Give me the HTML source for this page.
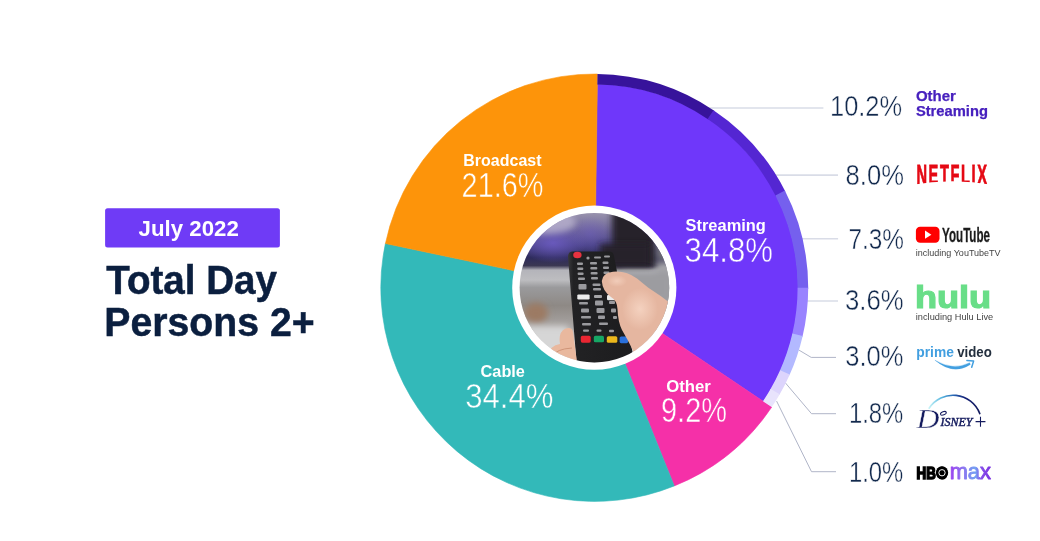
<!DOCTYPE html>
<html><head><meta charset="utf-8"><title>Total Day Persons 2+ July 2022</title>
<style>
html,body{margin:0;padding:0;background:#fff;}
body{width:1040px;height:541px;overflow:hidden;}
svg{display:block;font-family:"Liberation Sans",sans-serif;}
</style></head><body>
<svg width="1040" height="541" viewBox="0 0 1040 541">
<rect width="1040" height="541" fill="#fff"/>
<g>
<path d="M700 108H823.4" stroke="#d9dce7" stroke-width="1.6" fill="none"/>
<path d="M768 175.1H838" stroke="#d9dce7" stroke-width="1.6" fill="none"/>
<path d="M796 238.7H838.1" stroke="#d9dce7" stroke-width="1.6" fill="none"/>
<path d="M800 301H838" stroke="#d9dce7" stroke-width="1.6" fill="none"/>
<path d="M798.8 350L811.2 357.4H836" stroke="#b0b5c8" stroke-width="1" fill="none"/>
<path d="M785.4 382.9L811.5 413.7H836" stroke="#b0b5c8" stroke-width="1" fill="none"/>
<path d="M776.6 401.1L811.5 471.7H836" stroke="#b0b5c8" stroke-width="1" fill="none"/>
</g>
<g>
<path d="M594.50 287.70L597.35 83.92A203.80 203.80 0 0 1 763.54 401.55Z" fill="#6f37fa" stroke="#6f37fa" stroke-width="0.6" stroke-linejoin="round"/>
<path d="M594.50 287.70L771.75 407.08A213.70 213.70 0 0 1 674.28 485.95Z" fill="#f530a8" stroke="#f530a8" stroke-width="0.6" stroke-linejoin="round"/>
<path d="M594.50 287.70L674.28 485.95A213.70 213.70 0 0 1 385.42 243.52Z" fill="#33b9b9" stroke="#33b9b9" stroke-width="0.6" stroke-linejoin="round"/>
<path d="M594.50 287.70L385.42 243.52A213.70 213.70 0 0 1 597.48 74.02Z" fill="#fd940a" stroke="#fd940a" stroke-width="0.6" stroke-linejoin="round"/>
<path d="M597.48 74.02A213.70 213.70 0 0 1 714.28 110.72L708.34 119.50A203.10 203.10 0 0 0 597.34 84.62Z" fill="#37139b"/>
<path d="M713.50 110.20A213.70 213.70 0 0 1 785.30 191.45L775.83 196.22A203.10 203.10 0 0 0 707.60 119.01Z" fill="#5426d2"/>
<path d="M784.87 190.62A213.70 213.70 0 0 1 808.20 288.63L797.60 288.59A203.10 203.10 0 0 0 775.43 195.43Z" fill="#7560ee"/>
<path d="M808.20 287.70A213.70 213.70 0 0 1 802.48 336.83L792.16 334.39A203.10 203.10 0 0 0 797.60 287.70Z" fill="#9983ff"/>
<path d="M802.69 335.92A213.70 213.70 0 0 1 789.42 375.30L779.75 370.96A203.10 203.10 0 0 0 792.36 333.53Z" fill="#b3b9ff"/>
<path d="M789.80 374.45A213.70 213.70 0 0 1 779.29 395.03L770.12 389.71A203.10 203.10 0 0 0 780.11 370.15Z" fill="#dcd4fc"/>
<path d="M779.76 394.23A213.70 213.70 0 0 1 771.75 407.08L762.96 401.15A203.10 203.10 0 0 0 770.57 388.94Z" fill="#e8e3fc"/>
</g>
<g>
<circle cx="594.3" cy="287.7" r="82.1" fill="#fff"/>
<defs>
<clipPath id="pc"><circle cx="594.4" cy="287.7" r="74.8"/></clipPath>
<linearGradient id="bgv" x1="0" y1="212" x2="0" y2="363" gradientUnits="userSpaceOnUse">
<stop offset="0" stop-color="#9b95ae"/><stop offset="0.13" stop-color="#6c6399"/><stop offset="0.22" stop-color="#4a4386"/><stop offset="0.30" stop-color="#2e2b5c"/><stop offset="0.355" stop-color="#3a3752"/><stop offset="0.385" stop-color="#b4b4ba"/><stop offset="0.45" stop-color="#bdbdc0"/><stop offset="0.50" stop-color="#9a9a9c"/><stop offset="0.62" stop-color="#8e8985"/><stop offset="0.76" stop-color="#a9a5a3"/><stop offset="0.86" stop-color="#d2d2d2"/><stop offset="1" stop-color="#dedede"/>
</linearGradient>
<radialGradient id="glow" cx="0.5" cy="0.5" r="0.5"><stop offset="0" stop-color="#6d5cc4" stop-opacity="0.85"/><stop offset="1" stop-color="#6d5cc4" stop-opacity="0"/></radialGradient>
<radialGradient id="hl" cx="0.5" cy="0.5" r="0.5"><stop offset="0" stop-color="#f5d3c1" stop-opacity="0.95"/><stop offset="1" stop-color="#f5d3c1" stop-opacity="0"/></radialGradient>
<linearGradient id="rem" x1="0" y1="0" x2="1" y2="0"><stop offset="0" stop-color="#3a3a3c"/><stop offset="0.08" stop-color="#222224"/><stop offset="1" stop-color="#1c1c1e"/></linearGradient>
<filter id="bl" x="-30%" y="-30%" width="160%" height="160%"><feGaussianBlur stdDeviation="3"/></filter>
<filter id="bl1" x="-30%" y="-30%" width="160%" height="160%"><feGaussianBlur stdDeviation="0.6"/></filter>
<filter id="bl2" x="-30%" y="-30%" width="160%" height="160%"><feGaussianBlur stdDeviation="1.4"/></filter>
</defs>
<g clip-path="url(#pc)">
<rect x="515" y="208" width="160" height="160" fill="url(#bgv)"/>
<ellipse cx="553" cy="243" rx="34" ry="20" fill="url(#glow)"/>
<ellipse cx="590" cy="234" rx="20" ry="18" fill="url(#glow)" opacity="0.5"/>
<ellipse cx="546" cy="222" rx="30" ry="12" fill="#b9b2cf" filter="url(#bl)" opacity="0.8"/>
<rect x="612" y="200" width="44" height="67" fill="#27222b" filter="url(#bl)"/>
<rect x="600" y="244" width="50" height="22" fill="#27222b" filter="url(#bl)"/>
<rect x="656" y="226" width="30" height="34" fill="#727276" filter="url(#bl)"/><rect x="656" y="262" width="30" height="50" fill="#a4a4a8" filter="url(#bl)"/>
<rect x="622" y="272" width="50" height="30" fill="#9c9ca0" filter="url(#bl)"/>
<ellipse cx="536" cy="313" rx="12" ry="10" fill="#9c7a64" filter="url(#bl)"/>
<rect x="518" y="326" width="50" height="40" fill="#d6d6d6" filter="url(#bl)"/>
<!-- remote -->
<path d="M568 257Q568 251.6 573 251.6L609 251.6Q613.4 251.6 614 256L634 360L577 368Z" fill="url(#rem)"/>
<ellipse cx="577.4" cy="255" rx="4.2" ry="3.2" fill="#e8323f" filter="url(#bl1)"/>
<g fill="#9a9a9e" filter="url(#bl1)">
<circle cx="588" cy="258" r="1.6"/><rect x="594" y="256.5" width="7" height="2" rx="1"/><rect x="604" y="255.5" width="6" height="2" rx="1"/>
<rect x="577" y="262.5" width="6" height="2.6" rx="1"/><rect x="590" y="262" width="7" height="2.6" rx="1"/><rect x="602.5" y="261.5" width="6" height="2.6" rx="1"/>
<rect x="577.3" y="267.5" width="6" height="2.6" rx="1"/><rect x="590.3" y="267" width="7" height="2.6" rx="1"/><rect x="603" y="266.5" width="6" height="2.6" rx="1"/>
<rect x="577.6" y="272.5" width="6" height="2.6" rx="1"/><rect x="590.6" y="272" width="7" height="2.6" rx="1"/><rect x="603.5" y="271.5" width="6" height="2.6" rx="1"/>
<rect x="578" y="277.5" width="7" height="2.4" rx="1"/><rect x="591" y="277" width="7" height="2.4" rx="1"/>
<rect x="578.5" y="284" width="8" height="5.5" rx="1"/><rect x="592.5" y="283.5" width="8" height="2.5" rx="1"/><rect x="593" y="288" width="8" height="2.5" rx="1"/>
<rect x="579" y="302" width="9" height="2.4" rx="1"/><rect x="595" y="300.5" width="8" height="5" rx="1"/><rect x="609" y="301" width="6" height="3" rx="1"/>
<rect x="581" y="308.5" width="8" height="4" rx="1"/><rect x="596.5" y="308" width="8" height="5" rx="1"/><rect x="611" y="308.5" width="5" height="4" rx="1"/>
<rect x="581" y="316" width="10" height="2.6" rx="1"/><rect x="598" y="315.5" width="7" height="3.6" rx="1"/><rect x="613" y="316" width="4" height="3" rx="1"/>
<rect x="582" y="323" width="9" height="2.4" rx="1"/><rect x="599" y="322.5" width="9" height="2.4" rx="1"/>
<rect x="583" y="329.5" width="6" height="2.2" rx="1"/><rect x="596.5" y="329.5" width="5" height="2.2" rx="1"/><rect x="609" y="329.8" width="5" height="2.4" rx="1"/>
</g>
<rect x="577.3" y="294.4" width="12.3" height="5" rx="1.2" fill="#ececec" filter="url(#bl1)"/>
<rect x="594" y="295" width="8" height="3" rx="1" fill="#a5a5a8" filter="url(#bl1)"/>
<rect x="607" y="295" width="10" height="5.2" rx="1.2" fill="#ececec" filter="url(#bl1)"/>
<g filter="url(#bl1)">
<rect x="580.8" y="335.8" width="9.9" height="6.9" rx="1.6" fill="#ea2631"/>
<rect x="593.8" y="335.8" width="10.2" height="6.5" rx="1.6" fill="#18a765"/>
<rect x="606.8" y="336.2" width="10.5" height="6.6" rx="1.6" fill="#ecb81c"/>
<rect x="619.6" y="336.5" width="8.5" height="6.7" rx="1.6" fill="#2a6fdb"/>
</g>
<!-- thumb -->
<path d="M549.5 355Q549 346 560 344Q558 332 565.5 328.5Q572 326.5 573 332L577 362L564 366Q550.5 362 549.5 355Z" fill="#e9b89e" filter="url(#bl1)"/>
<path d="M553 356Q556 349 572 348" stroke="#cf9478" stroke-width="1" fill="none" filter="url(#bl1)"/>
<!-- hand -->
<path d="M601.8 281Q602.5 273 613 271.8Q626 270.5 637 278.6L648 287.6L661 296.2L668 301.5L682 311L680 345L641 372L633.5 351.5Q628 340 622 330Q618 322 617.5 309Q617 300.5 611 297Q602.5 291 601.8 281Z" fill="#e5b6a0" filter="url(#bl1)"/>
<path d="M670 306L676 352L641 372L634 352Q650 352 660 338Q667 324 670 306Z" fill="#d3a08a" filter="url(#bl2)"/>
<ellipse cx="640" cy="309" rx="18" ry="21" fill="url(#hl)"/>
<ellipse cx="617" cy="281" rx="10" ry="6" fill="url(#hl)" opacity="0.8"/>
</g>
</g>

<g>
<rect x="105.1" y="208.2" width="174.8" height="39.2" rx="2.5" fill="#6f3bf6"/>
<text x="138.6" y="236.4" font-size="22.9" font-weight="700" fill="#fff" textLength="100.2" lengthAdjust="spacingAndGlyphs" text-anchor="start" >July 2022</text>
<text x="106.2" y="293.8" font-size="40.4" font-weight="700" fill="#0b1f3f" textLength="170.8" lengthAdjust="spacingAndGlyphs" text-anchor="start" stroke="#0b1f3f" stroke-width="0.5">Total Day</text>
<text x="104.3" y="336.3" font-size="40.4" font-weight="700" fill="#0b1f3f" textLength="210.3" lengthAdjust="spacingAndGlyphs" text-anchor="start" stroke="#0b1f3f" stroke-width="0.5">Persons 2+</text>
<text x="463.3" y="166.2" font-size="16.1" font-weight="700" fill="#fff" textLength="78.2" lengthAdjust="spacingAndGlyphs" text-anchor="start" >Broadcast</text>
<text x="461.6" y="197.1" font-size="34.5" font-weight="400" fill="#fff" textLength="81.8" lengthAdjust="spacingAndGlyphs" stroke="#fd940a" stroke-width="0.5" text-anchor="start" >21.6%</text>
<text x="685.5" y="231.2" font-size="16.1" font-weight="700" fill="#fff" textLength="80.4" lengthAdjust="spacingAndGlyphs" text-anchor="start" >Streaming</text>
<text x="684.6" y="262.3" font-size="34.5" font-weight="400" fill="#fff" textLength="88.4" lengthAdjust="spacingAndGlyphs" stroke="#6f37fa" stroke-width="0.5" text-anchor="start" >34.8%</text>
<text x="480.6" y="376.9" font-size="16.1" font-weight="700" fill="#fff" textLength="44.3" lengthAdjust="spacingAndGlyphs" text-anchor="start" >Cable</text>
<text x="465.2" y="408.1" font-size="34.5" font-weight="400" fill="#fff" textLength="88.2" lengthAdjust="spacingAndGlyphs" stroke="#33b9b9" stroke-width="0.5" text-anchor="start" >34.4%</text>
<text x="666.2" y="392.3" font-size="16.1" font-weight="700" fill="#fff" textLength="44.7" lengthAdjust="spacingAndGlyphs" text-anchor="start" >Other</text>
<text x="661" y="422.4" font-size="34.5" font-weight="400" fill="#fff" textLength="66" lengthAdjust="spacingAndGlyphs" stroke="#f530a8" stroke-width="0.5" text-anchor="start" >9.2%</text>
<text x="830" y="115.8" font-size="29" font-weight="400" fill="#12294d" textLength="72.1" lengthAdjust="spacingAndGlyphs" stroke="#fff" stroke-width="0.45" text-anchor="start" >10.2%</text>
<text x="845.6" y="184.5" font-size="29" font-weight="400" fill="#12294d" textLength="58.3" lengthAdjust="spacingAndGlyphs" stroke="#fff" stroke-width="0.45" text-anchor="start" >8.0%</text>
<text x="848.5" y="249.3" font-size="29" font-weight="400" fill="#12294d" textLength="55.5" lengthAdjust="spacingAndGlyphs" stroke="#fff" stroke-width="0.45" text-anchor="start" >7.3%</text>
<text x="845" y="309.8" font-size="29" font-weight="400" fill="#12294d" textLength="58.7" lengthAdjust="spacingAndGlyphs" stroke="#fff" stroke-width="0.45" text-anchor="start" >3.6%</text>
<text x="845.3" y="365.5" font-size="29" font-weight="400" fill="#12294d" textLength="58.2" lengthAdjust="spacingAndGlyphs" stroke="#fff" stroke-width="0.45" text-anchor="start" >3.0%</text>
<text x="848.9" y="422.9" font-size="29" font-weight="400" fill="#12294d" textLength="54.4" lengthAdjust="spacingAndGlyphs" stroke="#fff" stroke-width="0.45" text-anchor="start" >1.8%</text>
<text x="848.9" y="481.8" font-size="29" font-weight="400" fill="#12294d" textLength="54.4" lengthAdjust="spacingAndGlyphs" stroke="#fff" stroke-width="0.45" text-anchor="start" >1.0%</text>
</g>
<g>
<text x="915.9" y="101.3" font-size="14.5" font-weight="700" fill="#4720be" textLength="40" lengthAdjust="spacingAndGlyphs" text-anchor="start" stroke="#4720be" stroke-width="0.25">Other</text>
<text x="915.9" y="116.1" font-size="14.5" font-weight="700" fill="#4720be" textLength="72" lengthAdjust="spacingAndGlyphs" text-anchor="start" stroke="#4720be" stroke-width="0.25">Streaming</text>
<text x="916.4" y="184.1" font-size="27" font-weight="700" fill="#e50914" textLength="72.2" lengthAdjust="spacingAndGlyphs" text-anchor="start" stroke="#e50914" stroke-width="0.85" letter-spacing="3">NETFLIX</text>
<path d="M911 188L911 184.9A244 244 0 0 1 993.6 184.9L993.6 188Z" fill="#fff"/>
<rect x="915.9" y="226.7" width="23.6" height="16" rx="4.2" fill="#ff0000"/>
<path d="M925 230.6L931.4 234.7L925 238.8Z" fill="#fff"/>
<text x="942.1" y="242" font-size="19.6" font-weight="700" fill="#1c1c1c" textLength="47.9" lengthAdjust="spacingAndGlyphs" text-anchor="start" stroke="#1c1c1c" stroke-width="0.3">YouTube</text>
<text x="915.8" y="255.8" font-size="9.3" font-weight="400" fill="#444" textLength="84.8" lengthAdjust="spacingAndGlyphs" text-anchor="start" >including YouTubeTV</text>
<text x="914.9" y="307.9" font-size="31.7" font-weight="700" fill="#69de88" textLength="76.3" lengthAdjust="spacingAndGlyphs" text-anchor="start" stroke="#69de88" stroke-width="1.2">hulu</text>
<text x="915.8" y="319.7" font-size="9.3" font-weight="400" fill="#444" textLength="77.4" lengthAdjust="spacingAndGlyphs" text-anchor="start" >including Hulu Live</text>
<text x="916.3" y="356.8" font-size="14" font-weight="700" fill="#429fe0" textLength="37.6" lengthAdjust="spacingAndGlyphs" text-anchor="start" >prime</text>
<text x="957.2" y="356.8" font-size="14" font-weight="700" fill="#232f3e" textLength="34.6" lengthAdjust="spacingAndGlyphs" text-anchor="start" >video</text>
<path d="M934.9 360.2Q953.5 375.8 970.4 364.5L969.6 362.7Q953.5 371.2 934.9 360.2Z" fill="#429fe0" stroke="#429fe0" stroke-width="0.3" stroke-linejoin="round"/>
<path d="M966.9 360.6L973.6 361.1L971.7 367.3" stroke="#429fe0" stroke-width="1.5" fill="none" stroke-linecap="round" stroke-linejoin="round"/>
<defs><linearGradient id="dg" x1="0" y1="0" x2="1" y2="0"><stop offset="0" stop-color="#c4f2f6"/><stop offset="0.25" stop-color="#58b6e0"/><stop offset="0.5" stop-color="#2560b0"/><stop offset="0.7" stop-color="#17257a"/><stop offset="1" stop-color="#121a5c"/></linearGradient></defs>
<path d="M929.1 408.2A28.6 28.6 0 0 1 979.8 413.6" stroke="url(#dg)" stroke-width="1.6" fill="none" stroke-linecap="round"/>
<text x="916.4" y="427.6" font-size="27" font-weight="400" fill="#141b5e" textLength="23" lengthAdjust="spacingAndGlyphs" text-anchor="start" font-style="italic" font-family="Liberation Serif, serif" stroke="#fff" stroke-width="0.35">D</text>
<text x="940.4" y="425.7" font-size="11.8" font-weight="400" fill="#141b5e" textLength="32" lengthAdjust="spacingAndGlyphs" text-anchor="start" font-style="italic" font-family="Liberation Serif, serif" stroke="#141b5e" stroke-width="0.45">ISNEY</text>
<ellipse cx="943.4" cy="413.3" rx="3" ry="1.6" fill="none" stroke="#141b5e" stroke-width="1" transform="rotate(-20 943.4 413.3)"/>
<text x="974.6" y="429" font-size="21.5" font-weight="400" fill="#141b5e" textLength="12" lengthAdjust="spacingAndGlyphs" text-anchor="start" font-family="Liberation Serif, serif">+</text>
<defs><linearGradient id="mg" x1="0" y1="0" x2="1" y2="0"><stop offset="0" stop-color="#9b40f0"/><stop offset="0.35" stop-color="#8a78f0"/><stop offset="0.62" stop-color="#70a0f2"/><stop offset="0.75" stop-color="#8650ea"/><stop offset="1" stop-color="#7a2ee0"/></linearGradient></defs>
<text x="916.6" y="479.1" font-size="16.4" font-weight="700" fill="#000" textLength="19.2" lengthAdjust="spacingAndGlyphs" text-anchor="start" stroke="#000" stroke-width="1.6" stroke-linejoin="miter">HB</text>
<text x="942" y="479.1" font-size="16.4" font-weight="700" fill="#000" textLength="11" lengthAdjust="spacingAndGlyphs" text-anchor="middle" stroke="#000" stroke-width="1.4">O</text>
<circle cx="942" cy="472.75" r="6.2" fill="#000"/><circle cx="942" cy="472.75" r="3.15" fill="none" stroke="#fff" stroke-width="0.95"/>
<text x="949.7" y="478.8" font-size="21.6" font-weight="400" fill="url(#mg)" textLength="41.2" lengthAdjust="spacingAndGlyphs" text-anchor="start" stroke="url(#mg)" stroke-width="0.9" stroke-linejoin="round">max</text>
</g>
</svg>
</body></html>
